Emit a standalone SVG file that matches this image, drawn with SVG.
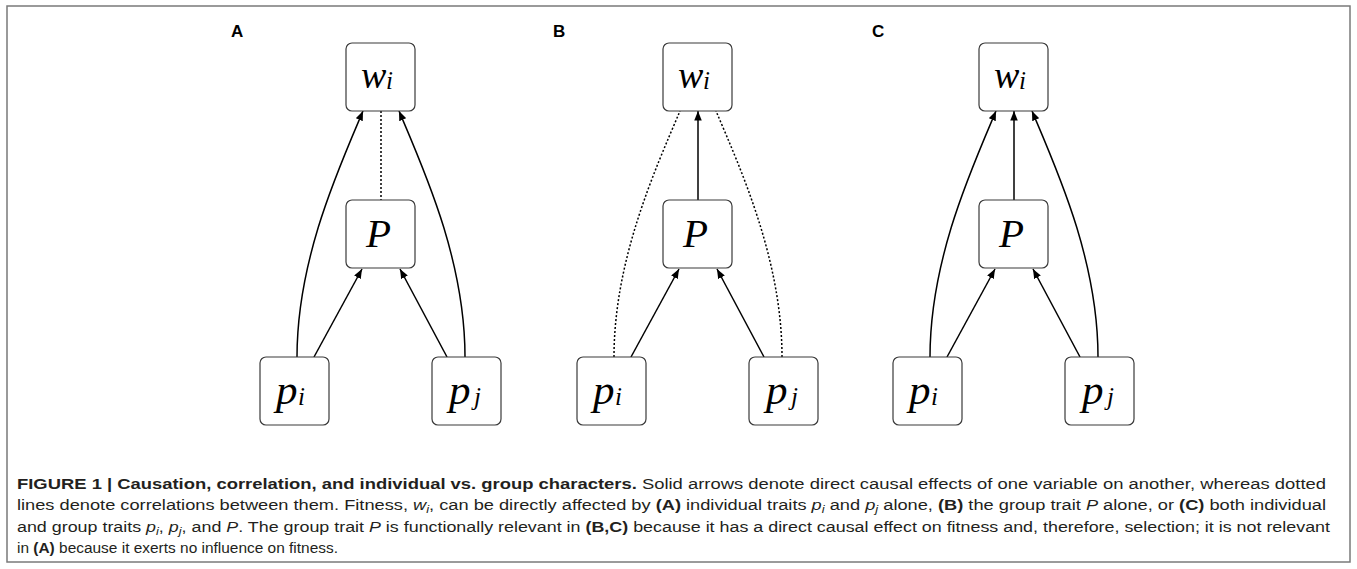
<svg xmlns="http://www.w3.org/2000/svg" width="1357" height="569" viewBox="0 0 1357 569">
  <style>
    .frame { fill: #ffffff; stroke: #7a7a7a; stroke-width: 1.5; }
    .node { fill: #ffffff; stroke: #3a3a3a; stroke-width: 1.2; }
    .math { font-family: "Liberation Serif", "DejaVu Serif", serif; font-style: italic; fill: #000000; }
    .panel { font-family: "Liberation Sans", Arial, sans-serif; font-weight: bold; font-size: 17px; fill: #000000; }
    .edge { fill: none; stroke: #000000; stroke-width: 1.5; }
    .arrow { marker-end: url(#head); }
    .dot { stroke-dasharray: 2 2; }
    .cap { font-family: "Liberation Sans", Arial, sans-serif; font-size: 15.5px; fill: #231f20; }
    .b { font-weight: bold; }
    .i { font-style: italic; }
  </style>
  <defs>
    <marker id="head" markerUnits="userSpaceOnUse" markerWidth="11" markerHeight="8" refX="9.5" refY="3.75" orient="auto">
      <path d="M0,0 L9.5,3.75 L0,7.5 z" fill="#000000"/>
    </marker>
  </defs>

  <rect class="frame" x="7" y="6" width="1343" height="556"/>

  <!-- Panel A: individual traits act on fitness; P only correlated -->
  <g id="panel-a">
    <text class="panel" x="231" y="37">A</text>
    <g id="a-connectors">
      <path class="edge arrow" d="M297,357 C297,260 338,170 363,111"/>
      <path class="edge arrow" d="M465,357 C465,260 424,170 399,111"/>
      <path class="edge arrow" d="M314,357 L362,269"/>
      <path class="edge arrow" d="M447,357 L400,269"/>
      <path class="edge dot" d="M381,111 L381,200"/>
    </g>
    <g id="a-wi"><rect class="node" x="346" y="43" width="69" height="68" rx="6"/>
      <text class="math" x="361" y="88" font-size="38">w<tspan x="386" y="89" font-size="25">i</tspan></text></g>
    <g id="a-P"><rect class="node" x="346" y="200" width="69" height="68" rx="6"/>
      <text class="math" x="366" y="247" font-size="41">P</text></g>
    <g id="a-pi"><rect class="node" x="260" y="357" width="69" height="68" rx="6"/>
      <text class="math" x="276" y="404" font-size="43">p<tspan x="298" y="405" font-size="25">i</tspan></text></g>
    <g id="a-pj"><rect class="node" x="432" y="357" width="69" height="68" rx="6"/>
      <text class="math" x="449" y="404" font-size="43">p<tspan x="474" y="405" font-size="25">j</tspan></text></g>
  </g>

  <!-- Panel B: only the group trait acts on fitness -->
  <g id="panel-b" transform="translate(317,0)">
    <text class="panel" x="236" y="37">B</text>
    <g id="b-connectors">
      <path class="edge dot" d="M297,357 C297,260 338,170 363,111"/>
      <path class="edge dot" d="M465,357 C465,260 424,170 399,111"/>
      <path class="edge arrow" d="M314,357 L362,269"/>
      <path class="edge arrow" d="M447,357 L400,269"/>
      <path class="edge arrow" d="M381,200 L381,111"/>
    </g>
    <g id="b-wi"><rect class="node" x="346" y="43" width="69" height="68" rx="6"/>
      <text class="math" x="361" y="88" font-size="38">w<tspan x="386" y="89" font-size="25">i</tspan></text></g>
    <g id="b-P"><rect class="node" x="346" y="200" width="69" height="68" rx="6"/>
      <text class="math" x="366" y="247" font-size="41">P</text></g>
    <g id="b-pi"><rect class="node" x="260" y="357" width="69" height="68" rx="6"/>
      <text class="math" x="276" y="404" font-size="43">p<tspan x="298" y="405" font-size="25">i</tspan></text></g>
    <g id="b-pj"><rect class="node" x="432" y="357" width="69" height="68" rx="6"/>
      <text class="math" x="449" y="404" font-size="43">p<tspan x="474" y="405" font-size="25">j</tspan></text></g>
  </g>

  <!-- Panel C: both individual and group traits act on fitness -->
  <g id="panel-c" transform="translate(633,0)">
    <text class="panel" x="239" y="37">C</text>
    <g id="c-connectors">
      <path class="edge arrow" d="M297,357 C297,260 338,170 363,111"/>
      <path class="edge arrow" d="M465,357 C465,260 424,170 399,111"/>
      <path class="edge arrow" d="M314,357 L362,269"/>
      <path class="edge arrow" d="M447,357 L400,269"/>
      <path class="edge arrow" d="M381,200 L381,111"/>
    </g>
    <g id="c-wi"><rect class="node" x="346" y="43" width="69" height="68" rx="6"/>
      <text class="math" x="361" y="88" font-size="38">w<tspan x="386" y="89" font-size="25">i</tspan></text></g>
    <g id="c-P"><rect class="node" x="346" y="200" width="69" height="68" rx="6"/>
      <text class="math" x="366" y="247" font-size="41">P</text></g>
    <g id="c-pi"><rect class="node" x="260" y="357" width="69" height="68" rx="6"/>
      <text class="math" x="276" y="404" font-size="43">p<tspan x="298" y="405" font-size="25">i</tspan></text></g>
    <g id="c-pj"><rect class="node" x="432" y="357" width="69" height="68" rx="6"/>
      <text class="math" x="449" y="404" font-size="43">p<tspan x="474" y="405" font-size="25">j</tspan></text></g>
  </g>

  <!-- Caption -->
  <g id="caption">
    <text class="cap" x="17" y="488.5" textLength="1309" lengthAdjust="spacingAndGlyphs"><tspan class="b">FIGURE 1 | Causation, correlation, and individual vs. group characters.</tspan> Solid arrows denote direct causal effects of one variable on another, whereas dotted</text>
    <text class="cap" x="17" y="510" textLength="1309" lengthAdjust="spacingAndGlyphs">lines denote correlations between them. Fitness, <tspan class="i">w</tspan><tspan class="i" font-size="11" dy="3">i</tspan><tspan dy="-3">, can be directly affected by </tspan><tspan class="b">(A)</tspan> individual traits <tspan class="i">p</tspan><tspan class="i" font-size="11" dy="3">i</tspan><tspan dy="-3"> and </tspan><tspan class="i">p</tspan><tspan class="i" font-size="11" dy="3">j</tspan><tspan dy="-3"> alone, </tspan><tspan class="b">(B)</tspan> the group trait <tspan class="i">P</tspan> alone, or <tspan class="b">(C)</tspan> both individual</text>
    <text class="cap" x="17" y="531.5" textLength="1313" lengthAdjust="spacingAndGlyphs">and group traits <tspan class="i">p</tspan><tspan class="i" font-size="11" dy="3">i</tspan><tspan dy="-3">, </tspan><tspan class="i">p</tspan><tspan class="i" font-size="11" dy="3">j</tspan><tspan dy="-3">, and </tspan><tspan class="i">P</tspan>. The group trait <tspan class="i">P</tspan> is functionally relevant in <tspan class="b">(B,C)</tspan> because it has a direct causal effect on fitness and, therefore, selection; it is not relevant</text>
    <text class="cap" x="17" y="553" textLength="321" lengthAdjust="spacingAndGlyphs">in <tspan class="b">(A)</tspan> because it exerts no influence on fitness.</text>
  </g>
</svg>
